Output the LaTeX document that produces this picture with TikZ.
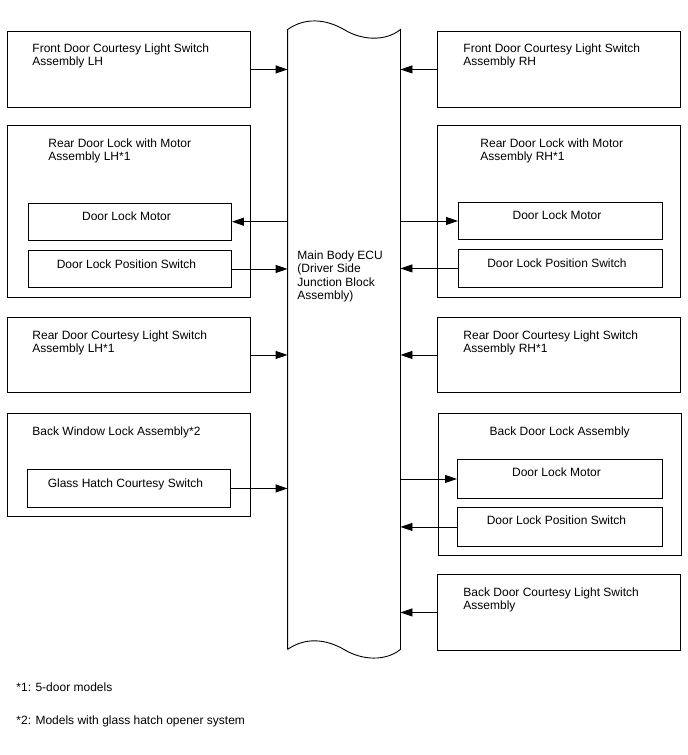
\documentclass[tikz,border=0pt]{standalone}
\usepackage{fontspec}
\setmainfont{Liberation Sans}
\usepackage{tikz}
\usetikzlibrary{positioning}
\usetikzlibrary{arrows.meta}

\begin{document}
\begin{tikzpicture}[x=1pt, y=-1pt, line width=0.9pt,
    font=\fontsize{12}{13.5}\selectfont,
    part/.style={draw, minimum width=242.5pt, inner sep=0pt, anchor=north west},
    sub/.style={draw, minimum width=203pt, inner sep=0pt, anchor=north west},
    lbl/.style={inner sep=0pt, align=left, anchor=north west},
    sig/.style={-{Triangle[length=12pt,width=8pt]}}]

    \useasboundingbox (0,0) rectangle (688,755);

    % main body ECU
    \node [minimum width=112pt, minimum height=619pt, inner sep=0pt] (ecu) at (344,339.5) {};
    \draw (ecu.south west) -- (ecu.north west)
        .. controls +(17,-12) and +(-19,-11) .. (ecu.north)
        .. controls +(18,11) and +(-15,12) .. (ecu.north east)
        -- (ecu.south east)
        .. controls +(-15,12) and +(18,11) .. (ecu.south)
        .. controls +(-19,-11) and +(17,-12) .. (ecu.south west);
    \node [lbl] (ecu-t) at (297,250) {Main Body ECU\\(Driver Side\\Junction Block\\Assembly)};

    % left side
    \node [part, minimum height=76pt] (fdc-l) at (7,31) {};
    \node [lbl] (fdc-l-t) at (32,43) {Front Door Courtesy Light Switch\\Assembly LH};

    \node [part, minimum height=172pt] (rdl-l) at (7,125) {};
    \node [lbl] (rdl-l-t) at (48,138) {Rear Door Lock with Motor\\Assembly LH*1};
    \node [sub, minimum height=36.5pt] (dlm-l) at (28,203) {};
    \node [lbl, below=8pt of dlm-l.north, xshift=-3.5pt] (dlm-l-t) {Door Lock Motor};
    \node [sub, minimum height=37pt] (dlp-l) at (28,250) {};
    \node [lbl, below=9pt of dlp-l.north, xshift=-3.5pt] (dlp-l-t) {Door Lock Position Switch};

    \node [part, minimum height=75pt] (rdc-l) at (7,317) {};
    \node [lbl] (rdc-l-t) at (32,330) {Rear Door Courtesy Light Switch\\Assembly LH*1};

    \node [part, minimum height=103pt] (bwl) at (7,413) {};
    \node [lbl] (bwl-t) at (32,426) {Back Window Lock Assembly*2};
    \node [sub, minimum height=38pt] (ghs) at (27,469) {};
    \node [lbl, below=9pt of ghs.north, xshift=-3.5pt] (ghs-t) {Glass Hatch Courtesy Switch};

    % right side
    \node [part, minimum height=76pt] (fdc-r) at (437,31) {};
    \node [lbl] (fdc-r-t) at (463,43) {Front Door Courtesy Light Switch\\Assembly RH};

    \node [part, minimum height=172pt] (rdl-r) at (437,125) {};
    \node [lbl] (rdl-r-t) at (480,138) {Rear Door Lock with Motor\\Assembly RH*1};
    \node [sub, minimum width=204pt, minimum height=37pt] (dlm-r) at (458,202) {};
    \node [lbl, below=8pt of dlm-r.north, xshift=-3.5pt] (dlm-r-t) {Door Lock Motor};
    \node [sub, minimum width=204pt, minimum height=38pt] (dlp-r) at (458,249) {};
    \node [lbl, below=9pt of dlp-r.north, xshift=-3.5pt] (dlp-r-t) {Door Lock Position Switch};

    \node [part, minimum height=75pt] (rdc-r) at (437,317) {};
    \node [lbl] (rdc-r-t) at (463,330) {Rear Door Courtesy Light Switch\\Assembly RH*1};

    \node [part, minimum height=142pt] (bdl) at (438,413) {};
    \node [lbl, below=13pt of bdl.north] (bdl-t) {Back Door Lock Assembly};
    \node [sub, minimum width=205pt, minimum height=39pt] (bdm) at (457,459) {};
    \node [lbl, below=8pt of bdm.north, xshift=-3.5pt] (bdm-t) {Door Lock Motor};
    \node [sub, minimum width=205pt, minimum height=39pt] (bdp) at (457,507) {};
    \node [lbl, below=8pt of bdp.north, xshift=-3.5pt] (bdp-t) {Door Lock Position Switch};

    \node [part, minimum height=76pt] (bdc) at (437,574) {};
    \node [lbl] (bdc-t) at (463,587) {Back Door Courtesy Light Switch\\Assembly};

    % signals
    \draw [sig] (fdc-l.east) -- (fdc-l.east -| ecu.west);
    \draw [sig] (ecu.west |- dlm-l.east) -- (dlm-l.east);
    \draw [sig] (dlp-l.east) -- (dlp-l.east -| ecu.west);
    \draw [sig] (rdc-l.east) -- (rdc-l.east -| ecu.west);
    \draw [sig] (ghs.east) -- (ghs.east -| ecu.west);

    \draw [sig] (fdc-r.west) -- (fdc-r.west -| ecu.east);
    \draw [sig] (ecu.east |- dlm-r.west) -- (dlm-r.west);
    \draw [sig] (dlp-r.west) -- (dlp-r.west -| ecu.east);
    \draw [sig] (rdc-r.west) -- (rdc-r.west -| ecu.east);
    \draw [sig] (ecu.east |- bdm.west) -- (bdm.west);
    \draw [sig] (bdp.west) -- (bdp.west -| ecu.east);
    \draw [sig] (bdc.west) -- (bdc.west -| ecu.east);

    % notes
    \node [inner sep=0pt, anchor=base west] (note1) at (16,691) {*1: 5-door models};
    \node [inner sep=0pt, anchor=base west] (note2) at (16,724) {*2: Models with glass hatch opener system};
\end{tikzpicture}
\end{document}
